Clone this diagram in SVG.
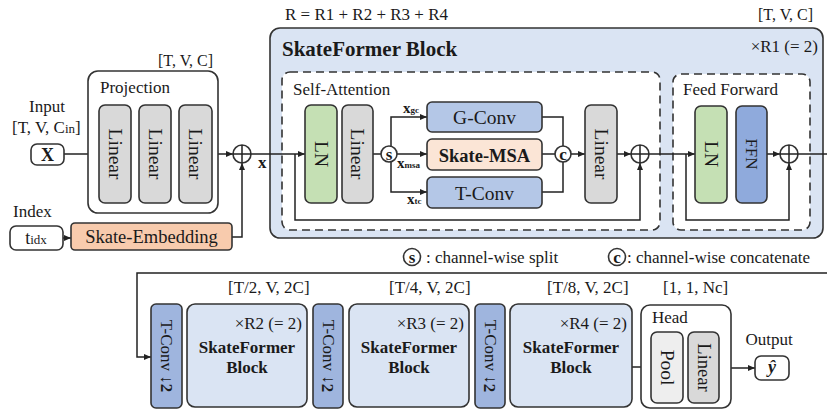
<svg xmlns="http://www.w3.org/2000/svg" width="827" height="411" viewBox="0 0 827 411">
<defs>
<style>
.t{font-family:"Liberation Serif","Times New Roman",serif;font-size:17px;fill:#1a1a1a}
.b{font-weight:bold}
.m{text-anchor:middle}
.e{text-anchor:end}
.r{font-size:19.5px}
.box{stroke:#333;stroke-width:1.6}
.ln{fill:none;stroke:#222;stroke-width:1.5}
.dash{fill:#fff;stroke:#333;stroke-width:1.6;stroke-dasharray:8 5}
.gray{fill:#d9d9d9}
.lgray{fill:#eeeeee}
.green{fill:#c5e0b4}
.blue{fill:#b4c7e7}
.dblue{fill:#8faadc}
.tblue{fill:#9fb5de}
.lblue{fill:#dae4f3}
.peach{fill:#f8cbad}
.lpeach{fill:#fbe5d6}
.white{fill:#fff}
.sym{font-size:17px}
.xl{font-size:15px}
</style>
<marker id="ah" markerWidth="8" markerHeight="8" refX="7" refY="4" orient="auto" markerUnits="userSpaceOnUse"><path d="M0,1 L7,4 L0,7 z" fill="#222"/></marker>
</defs>
<rect width="827" height="411" fill="#fff"/>

<text class="t" x="285" y="20">R = R1 + R2 + R3 + R4</text>
<text class="t" x="758" y="20" style="font-size:16px">[T, V, C]</text>
<text class="t" x="158" y="66" style="font-size:16px">[T, V, C]</text>

<g id="skateformer-block">
<rect class="box lblue" x="270" y="28" width="553" height="210" rx="10"/>
<text class="t b" x="282" y="56" style="font-size:21px">SkateFormer Block</text>
<text class="t e" x="818" y="52">×R1 (= 2)</text>
</g>
<g id="self-attention">
<rect class="dash" x="282" y="72" width="378" height="158" rx="8"/>
<text class="t" x="293" y="95">Self-Attention</text>
</g>
<g id="feed-forward">
<rect class="dash" x="673" y="74" width="137" height="156" rx="8"/>
<text class="t" x="683" y="95">Feed Forward</text>
</g>

<g id="connectors">
<line class="ln" x1="64" y1="154" x2="99" y2="154" marker-end="url(#ah)"/>
<line class="ln" x1="63" y1="238" x2="71" y2="238" marker-end="url(#ah)"/>
<path class="ln" d="M232,237 H242 V163" marker-end="url(#ah)"/>
<line class="ln" x1="212" y1="154" x2="233" y2="154" marker-end="url(#ah)"/>
<line class="ln" x1="251" y1="154" x2="305" y2="154" marker-end="url(#ah)"/>
<line class="ln" x1="373" y1="154" x2="381" y2="154"/>
<path class="ln" d="M391,154 V117 H427" marker-end="url(#ah)"/>
<path class="ln" d="M391,154 V192 H427" marker-end="url(#ah)"/>
<line class="ln" x1="391" y1="154" x2="427" y2="154" marker-end="url(#ah)"/>
<path class="ln" d="M542,117 H563 V192 H542"/>
<line class="ln" x1="542" y1="154" x2="555" y2="154"/>
<line class="ln" x1="571" y1="154" x2="585" y2="154" marker-end="url(#ah)"/>
<line class="ln" x1="617" y1="154" x2="631" y2="154" marker-end="url(#ah)"/>
<path class="ln" d="M295,154 V220 H640 V163" marker-end="url(#ah)"/>
<line class="ln" x1="649" y1="154" x2="695" y2="154" marker-end="url(#ah)"/>
<path class="ln" d="M686,154 V220 H789 V163" marker-end="url(#ah)"/>
<line class="ln" x1="767" y1="154" x2="780" y2="154" marker-end="url(#ah)"/>
<line class="ln" x1="798" y1="154" x2="827" y2="154"/>
<path class="ln" d="M827,273 H137 V357 H151" stroke-width="2" marker-end="url(#ah)"/>
<line class="ln" x1="632" y1="367" x2="651" y2="367" marker-end="url(#ah)"/>
<line class="ln" x1="719" y1="368" x2="755" y2="368" marker-end="url(#ah)"/>
</g>

<g id="input">
<text class="t m" x="47" y="112">Input</text>
<text class="t" x="12" y="133">[T, V, C<tspan font-size="13">in</tspan>]</text>
<rect class="box white" x="31" y="144" width="33" height="21" rx="6"/>
<text class="t b m" x="47.5" y="161" style="font-size:18px">X</text>
</g>
<g id="index">
<text class="t" x="13" y="217">Index</text>
<rect class="box white" x="10" y="226" width="53" height="24" rx="6"/>
<text class="t m" x="36" y="244" style="font-size:18px">t<tspan font-size="13">idx</tspan></text>
</g>
<g id="skate-embedding">
<rect class="box peach" x="71" y="223" width="161" height="27" rx="4"/>
<text class="t m" x="151.5" y="243" style="font-size:18.5px">Skate-Embedding</text>
</g>
<g id="projection">
<rect class="box white" x="88" y="71" width="130" height="142" rx="10"/>
<text class="t" x="100" y="93">Projection</text>
<rect class="box gray" x="99" y="105" width="32" height="98" rx="6"/>
<rect class="box gray" x="139" y="105" width="32" height="98" rx="6"/>
<rect class="box gray" x="179" y="105" width="33" height="98" rx="6"/>
<text class="t m r" transform="translate(115,154) rotate(90)" dominant-baseline="central">Linear</text>
<text class="t m r" transform="translate(155,154) rotate(90)" dominant-baseline="central">Linear</text>
<text class="t m r" transform="translate(195.5,154) rotate(90)" dominant-baseline="central">Linear</text>
</g>
<g id="add1">
<circle class="box white" cx="242" cy="154" r="9"/>
<path class="ln" d="M233,154 H251 M242,145 V163"/>
<text class="t b" x="258" y="168">x</text>
</g>

<g id="sa-ln">
<rect class="box green" x="305" y="105" width="32" height="98" rx="6"/>
<text class="t m r" transform="translate(321,154) rotate(90)" dominant-baseline="central">LN</text>
</g>
<g id="sa-linear">
<rect class="box gray" x="342" y="105" width="31" height="98" rx="6"/>
<text class="t m r" transform="translate(357.5,154) rotate(90)" dominant-baseline="central">Linear</text>
</g>
<g id="split">
<circle class="box white" cx="389" cy="154" r="8"/>
<text class="t b m sym" x="389" y="159.5">s</text>
<text class="t b xl" x="403" y="113">x<tspan font-size="9">gc</tspan></text>
<text class="t b xl" x="397" y="168">x<tspan font-size="9">msa</tspan></text>
<text class="t b xl" x="407" y="204">x<tspan font-size="9">tc</tspan></text>
</g>
<g id="g-conv">
<rect class="box blue" x="427" y="102" width="115" height="30" rx="5"/>
<text class="t m" x="484.5" y="124" style="font-size:19.5px">G-Conv</text>
</g>
<g id="skate-msa">
<rect class="box lpeach" x="427" y="139" width="115" height="31" rx="5"/>
<text class="t b m" x="484.5" y="161.5" style="font-size:18.5px">Skate-MSA</text>
</g>
<g id="t-conv">
<rect class="box blue" x="427" y="177" width="115" height="31" rx="5"/>
<text class="t m" x="484.5" y="199.5" style="font-size:19.5px">T-Conv</text>
</g>
<g id="concat">
<circle class="box white" cx="563" cy="154" r="8"/>
<text class="t b m sym" x="563" y="159.5">c</text>
</g>
<g id="sa-linear2">
<rect class="box gray" x="585" y="105" width="32" height="98" rx="6"/>
<text class="t m r" transform="translate(601,154) rotate(90)" dominant-baseline="central">Linear</text>
</g>
<g id="add2">
<circle class="box white" cx="640" cy="154" r="9"/>
<path class="ln" d="M631,154 H649 M640,145 V163"/>
</g>
<g id="ff-ln">
<rect class="box green" x="695" y="106" width="32" height="97" rx="6"/>
<text class="t m r" transform="translate(711,154) rotate(90)" dominant-baseline="central">LN</text>
</g>
<g id="ffn">
<rect class="box dblue" x="736" y="106" width="31" height="97" rx="6"/>
<text class="t m" transform="translate(751.5,154) rotate(90)" dominant-baseline="central">FFN</text>
</g>
<g id="add3">
<circle class="box white" cx="789" cy="154" r="9"/>
<path class="ln" d="M780,154 H798 M789,145 V163"/>
</g>

<g id="legend">
<circle class="box white" cx="412" cy="257" r="8.5"/>
<text class="t b m sym" x="412" y="262.5">s</text>
<text class="t" x="426" y="263">: channel-wise split</text>
<circle class="box white" cx="617" cy="257" r="8.5"/>
<text class="t b m sym" x="617" y="262.5">c</text>
<text class="t" x="627" y="263">: channel-wise concatenate</text>
</g>

<g id="tconv-ds1">
<rect class="box tblue" x="151" y="304" width="31" height="104" rx="5"/>
<text class="t m" transform="translate(166.5,356) rotate(90)" dominant-baseline="central">T-Conv ↓<tspan class="b">2</tspan></text>
</g>
<g id="block2">
<text class="t" x="228" y="293">[T/2, V, 2C]</text>
<rect class="box lblue" x="187" y="304" width="120" height="103" rx="8"/>
<text class="t e" x="302" y="329">×R2 (= 2)</text>
<text class="t b m" x="247" y="353">SkateFormer</text>
<text class="t b m" x="247" y="373">Block</text>
</g>
<g id="tconv-ds2">
<rect class="box tblue" x="313" y="304" width="30" height="104" rx="5"/>
<text class="t m" transform="translate(328,356) rotate(90)" dominant-baseline="central">T-Conv ↓<tspan class="b">2</tspan></text>
</g>
<g id="block3">
<text class="t" x="389" y="293">[T/4, V, 2C]</text>
<rect class="box lblue" x="349" y="304" width="120" height="103" rx="8"/>
<text class="t e" x="464" y="329">×R3 (= 2)</text>
<text class="t b m" x="409" y="353">SkateFormer</text>
<text class="t b m" x="409" y="373">Block</text>
</g>
<g id="tconv-ds3">
<rect class="box tblue" x="475" y="304" width="30" height="104" rx="5"/>
<text class="t m" transform="translate(490,356) rotate(90)" dominant-baseline="central">T-Conv ↓<tspan class="b">2</tspan></text>
</g>
<g id="block4">
<text class="t" x="547" y="293">[T/8, V, 2C]</text>
<rect class="box lblue" x="510" y="304" width="122" height="103" rx="8"/>
<text class="t e" x="627" y="329">×R4 (= 2)</text>
<text class="t b m" x="571" y="353">SkateFormer</text>
<text class="t b m" x="571" y="373">Block</text>
</g>
<g id="head">
<text class="t" x="663" y="293">[1, 1, Nc]</text>
<rect class="box white" x="641" y="305" width="90" height="103" rx="9"/>
<text class="t" x="652" y="323">Head</text>
<rect class="box lgray" x="651" y="332" width="32" height="71" rx="6"/>
<rect class="box gray" x="688" y="332" width="31" height="71" rx="6"/>
<text class="t m r" transform="translate(667,367.5) rotate(90)" dominant-baseline="central">Pool</text>
<text class="t m" transform="translate(703.5,367.5) rotate(90)" dominant-baseline="central" style="font-size:18.5px">Linear</text>
</g>
<g id="output">
<text class="t m" x="769" y="345">Output</text>
<rect class="box white" x="755" y="356" width="34" height="24" rx="6"/>
<text class="t b m" x="772" y="373" style="font-style:italic;font-size:18px">ŷ</text>
</g>
</svg>
